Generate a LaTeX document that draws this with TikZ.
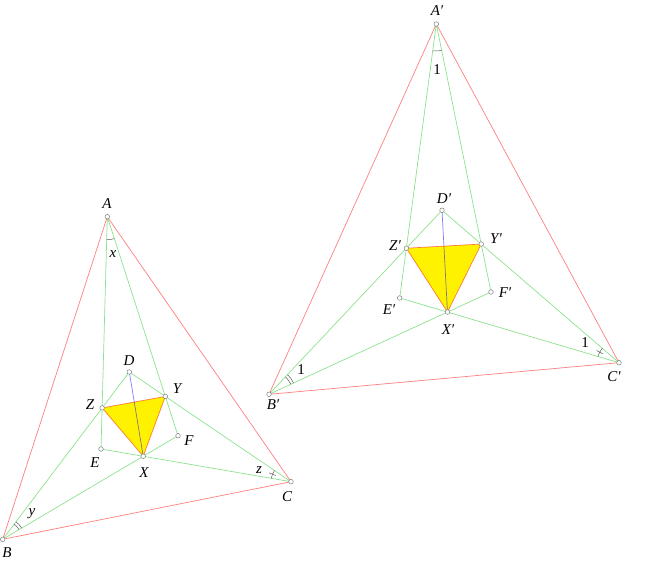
\documentclass[tikz,border=0pt]{standalone}
\usepackage{fontspec}
\setmainfont{Liberation Serif}
\usetikzlibrary{angles,calc}

\tikzset{
  pt/.style={circle,draw=gray,fill=white,inner sep=0pt,minimum size=4.6pt,line width=0.5pt},
  sideline/.style={draw=red,draw opacity=0.5,line width=0.7pt},
  trisec/.style={draw=green!75!black,draw opacity=0.45,line width=0.7pt},
  cevline/.style={draw=blue,draw opacity=0.5,line width=0.7pt},
  lbl/.style={font=\fontsize{15}{17}\selectfont\itshape,inner sep=0pt},
  num/.style={font=\fontsize{15}{17}\selectfont,inner sep=0pt},
  amark/.style={draw=black!65,line width=0.5pt,angle radius=#1},
  tickline/.style={draw=black!65,line width=0.5pt}
}

\begin{document}
\begin{tikzpicture}[x=1pt,y=1pt]
  \useasboundingbox (0,0) rectangle (646,563);

  % left triangle
  \coordinate (A) at (107.3,346.3);
  \coordinate (B) at (2.7,23.7);
  \coordinate (C) at (291,81.3);
  \coordinate (D) at (129.3,191);
  \coordinate (E) at (101,114);
  \coordinate (F) at (178,127.3);
  \coordinate (X) at (intersection of B--F and C--E);
  \coordinate (Y) at (intersection of A--F and C--D);
  \coordinate (Z) at (intersection of A--E and B--D);

  \fill[yellow] (X) -- (Y) -- (Z) -- cycle;
  \draw[trisec] (A) -- (E) (A) -- (F) (B) -- (D) (B) -- (F) (C) -- (D) (C) -- (E);
  \draw[sideline] (A) -- (B) -- (C) -- cycle;
  \draw[sideline] (X) -- (Y) -- (Z) -- cycle;
  \draw[cevline] (D) -- (X);

  \pic[amark=23pt] {angle=E--A--F};
  \pic[amark=19pt] {angle=F--B--D};
  \pic[amark=22pt] {angle=F--B--D};
  \pic[amark=20pt] {angle=D--C--E};
  \draw[tickline] ($(C)+(158:16.5)$) -- ($(C)+(158:23.5)$);

  % right triangle
  \coordinate (Ap) at (436.3,539);
  \coordinate (Bp) at (269,168.7);
  \coordinate (Cp) at (619,200.3);
  \coordinate (Dp) at (442,352.7);
  \coordinate (Ep) at (399.7,265);
  \coordinate (Fp) at (491,271);
  \coordinate (Xp) at (intersection of Bp--Fp and Cp--Ep);
  \coordinate (Yp) at (intersection of Ap--Fp and Cp--Dp);
  \coordinate (Zp) at (intersection of Ap--Ep and Bp--Dp);

  \fill[yellow] (Xp) -- (Yp) -- (Zp) -- cycle;
  \draw[trisec] (Ap) -- (Ep) (Ap) -- (Fp) (Bp) -- (Dp) (Bp) -- (Fp) (Cp) -- (Dp) (Cp) -- (Ep);
  \draw[sideline] (Ap) -- (Bp) -- (Cp) -- cycle;
  \draw[sideline] (Xp) -- (Yp) -- (Zp) -- cycle;
  \draw[cevline] (Dp) -- (Xp);

  \pic[amark=27pt] {angle=Ep--Ap--Fp};
  \pic[amark=24pt] {angle=Fp--Bp--Dp};
  \pic[amark=27pt] {angle=Fp--Bp--Dp};
  \pic[amark=22pt] {angle=Dp--Cp--Ep};
  \draw[tickline] ($(Cp)+(151.4:18.5)$) -- ($(Cp)+(151.4:25.5)$);

  % points
  \foreach \p in {A,B,C,D,E,F,X,Y,Z,Ap,Bp,Cp,Dp,Ep,Fp,Xp,Yp,Zp}
    \node[pt] (pt\p) at (\p) {};

  % labels
  \node[lbl] (lA) at (107,359) {A};
  \node[lbl] (lB) at (7,10) {B};
  \node[lbl] (lC) at (287,66) {C};
  \node[lbl] (lD) at (129,202) {D};
  \node[lbl] (lE) at (95,100) {E};
  \node[lbl] (lF) at (189,122) {F};
  \node[lbl] (lX) at (144,90) {X};
  \node[lbl] (lY) at (177,174) {Y};
  \node[lbl] (lZ) at (90,158) {Z};
  \node[lbl] (lx) at (113,309) {x};
  \node[lbl] (ly) at (32,49) {y};
  \node[lbl] (lz) at (259,93) {z};

  \node[lbl] (lAp) at (437,552) {A′};
  \node[lbl] (lBp) at (273,158) {B′};
  \node[lbl] (lCp) at (614,186) {C′};
  \node[lbl] (lDp) at (444,364) {D′};
  \node[lbl] (lEp) at (389,253) {E′};
  \node[lbl] (lFp) at (505,270) {F′};
  \node[lbl] (lXp) at (448,233) {X′};
  \node[lbl] (lYp) at (496,324) {Y′};
  \node[lbl] (lZp) at (395,317) {Z′};
  \node[num] (nA) at (437,493) {1};
  \node[num] (nB) at (301,193) {1};
  \node[num] (nC) at (585,220) {1};
\end{tikzpicture}
\end{document}
